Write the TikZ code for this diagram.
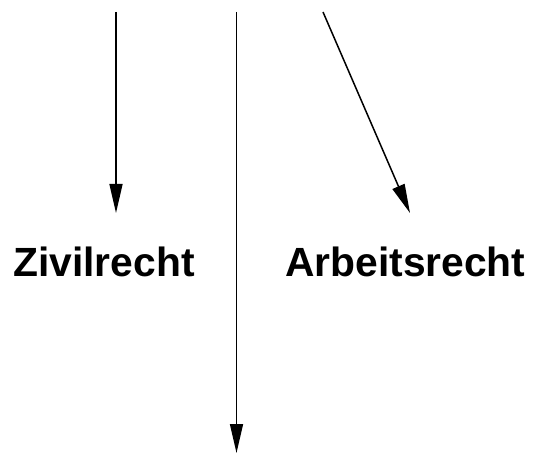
\documentclass[tikz,border=0pt]{standalone}
\usepackage{fontspec}
\setmainfont{Liberation Sans}
\usetikzlibrary{arrows.meta}
\begin{document}
\begin{tikzpicture}[x=1pt,y=-1pt,
  flow/.style={line width=1.5pt,-{Triangle[length=29pt,width=13pt]}},
  label/.style={inner sep=0pt,anchor=base west,font=\fontsize{40.8}{48}\selectfont\bfseries}]
  \useasboundingbox (0,0) rectangle (533,454);
  % start and end points of the three arrows
  \coordinate (s1) at (116,12);
  \coordinate (e1) at (116,213);
  \coordinate (s2) at (236.5,12);
  \coordinate (e2) at (236.5,453);
  \coordinate (s3) at (323,12);
  \coordinate (e3) at (410,213);
  % labels
  \node[label] (zivil) at (13,277) {Zivilrecht};
  \node[label] (arbeit) at (285,277) {Arbeitsrecht};
  % arrows
  \draw[flow] (s1) -- (e1);
  \draw[flow] (s2) -- (e2);
  \draw[flow] (s3) -- (e3);
\end{tikzpicture}
\end{document}
